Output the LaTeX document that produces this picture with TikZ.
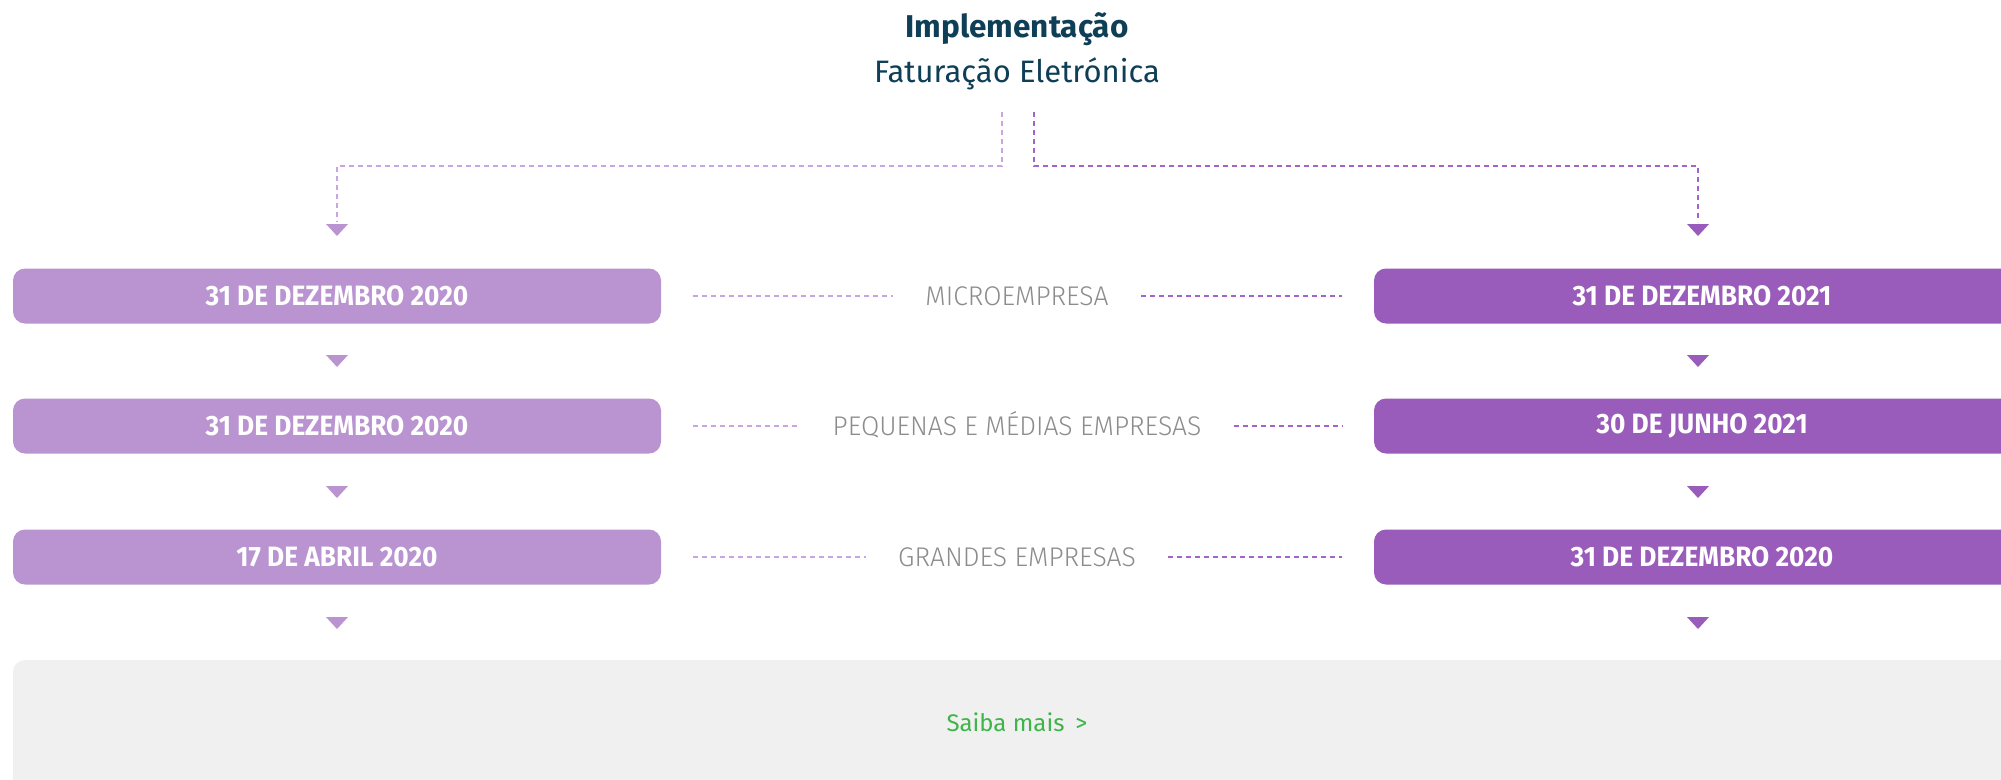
\documentclass[tikz,border=0pt]{standalone}
\usepackage{fontspec}
\setmainfont{Fira Sans}
\newfontfamily\boxfont[FakeStretch=0.94]{Fira Sans}
\newfontfamily\lightfont[FakeStretch=0.98]{Fira Sans Light}
\definecolor{lp}{HTML}{B994D0}
\definecolor{dp}{HTML}{9A5CBA}
\definecolor{dashlc}{HTML}{C9A3E2}
\definecolor{dashrc}{HTML}{A463CC}
\definecolor{titlec}{HTML}{0E3F57}
\definecolor{greyt}{HTML}{8C8C8C}
\definecolor{greybg}{HTML}{F0F0F0}
\definecolor{greent}{HTML}{3FB44A}
\newcommand\trimark[3]{\fill[#3] (#1-11,#2) -- (#1+11,#2) -- (#1,#2+12) -- cycle;}
\begin{document}
\begin{tikzpicture}[x=1pt,y=-1pt,
  datebox/.style={rounded corners=12pt, minimum width=648pt, minimum height=55pt, text=white,
    font=\boxfont\bfseries\fontsize{28}{32}\selectfont, inner sep=0pt},
  leftbox/.style={datebox, fill=lp},
  rightbox/.style={datebox, fill=dp, minimum width=656pt},
  grouplabel/.style={text=greyt, font=\lightfont\fontsize{27}{31}\selectfont, inner sep=0pt,
    text height=19pt, text depth=0pt},
  dashl/.style={draw=dashlc, line width=1.5pt, dash pattern=on 5pt off 4pt},
  dashr/.style={draw=dashrc, line width=1.5pt, dash pattern=on 5pt off 4pt}]
\useasboundingbox (0,0) rectangle (2001,779);
\clip (0,0) rectangle (2001,779);
\fill[white] (0,0) rectangle (2001,779);

% title
\node[anchor=base, text=titlec, font=\bfseries\fontsize{31.5}{36}\selectfont, inner sep=0pt] (title) at (1017,37) {Implementação};
\node[anchor=base, text=titlec, font=\fontsize{31}{36}\selectfont, inner sep=0pt] (subtitle) at (1017,82) {Faturação Eletrónica};

\coordinate (tl) at (1002,112);
\coordinate (tr) at (1034,112);
\coordinate (a0L) at (337,222);
\coordinate (a0R) at (1698,222);
\draw[dashl] (tl) -- ++(0,54) -| (a0L);
\draw[dashr] (tr) -- ++(0,54) -| (a0R);
\trimark{337}{224}{lp}
\trimark{1698}{224}{dp}

% rows
\node[leftbox] (L1) at (337,296) {31 DE DEZEMBRO 2020};
\node[leftbox] (L2) at (337,426) {31 DE DEZEMBRO 2020};
\node[leftbox] (L3) at (337,557) {17 DE ABRIL 2020};
\node[rightbox] (R1) at (1702,296) {31 DE DEZEMBRO 2021};
\node[rightbox] (R2) at (1702,426) {30 DE JUNHO 2021};
\node[rightbox] (R3) at (1702,557) {31 DE DEZEMBRO 2020};

\node[grouplabel] (M1) at (1017,296) {MICROEMPRESA};
\node[grouplabel] (M2) at (1017,426) {PEQUENAS E MÉDIAS EMPRESAS};
\node[grouplabel] (M3) at (1017,557) {GRANDES EMPRESAS};

\foreach \i in {1,2,3}{
  \draw[dashl] ([xshift=32pt]L\i.east) -- ([xshift=-32pt]M\i.west);
  \draw[dashr] ([xshift=32pt]M\i.east) -- ([xshift=-32pt]R\i.west);
}

\trimark{337}{355}{lp}
\trimark{337}{486}{lp}
\trimark{337}{617}{lp}
\trimark{1698}{355}{dp}
\trimark{1698}{486}{dp}
\trimark{1698}{617}{dp}

% bottom
\node[fill=greybg, rounded corners=12pt, minimum width=2008pt, minimum height=140pt, inner sep=0pt] (more) at (1017,730) {};
\node[text=greent, font=\fontsize{24}{28}\selectfont, inner sep=0pt] (saiba) at (1017,722) {Saiba mais\hspace{11pt}>};
\end{tikzpicture}
\end{document}
